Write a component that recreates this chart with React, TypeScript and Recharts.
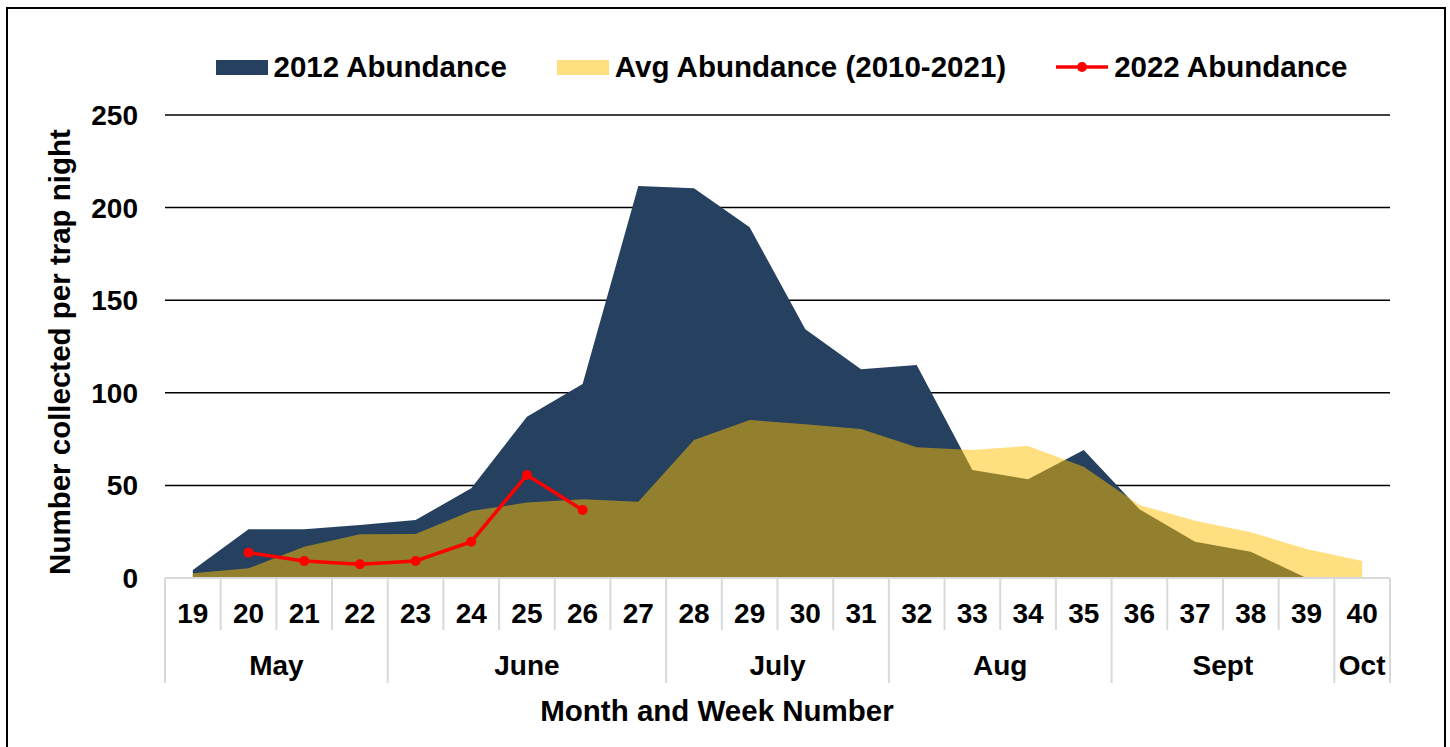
import React from 'react';
import { ComposedChart, Area, Line, XAxis, YAxis, CartesianGrid, Legend } from 'recharts';

const weeks = ['19', '20', '21', '22', '23', '24', '25', '26', '27', '28', '29', '30', '31', '32', '33', '34', '35', '36', '37', '38', '39', '40'];
const months = ['May', 'May', 'May', 'May', 'June', 'June', 'June', 'June', 'June', 'July', 'July', 'July', 'July', 'Aug', 'Aug', 'Aug', 'Aug', 'Sept', 'Sept', 'Sept', 'Sept', 'Oct'];
const abundance2012 = [4.3, 26.3, 26.3, 28.6, 31.3, 48.4, 87.1, 104.7, 211.7, 210.4, 189.4, 134.3, 112.7, 115, 58.3, 53.3, 69.1, 37.1, 19.6, 14.2, 0, null];
const avgAbundance = [2.5, 5.2, 16.9, 23.6, 23.8, 36.2, 40.7, 42.5, 41.2, 74.5, 85.3, 83, 80.5, 70.6, 69.1, 71.3, 60.1, 39.4, 30.9, 24.7, 15.7, 9.2];
const abundance2022 = [null, 13.7, 9.2, 7.4, 9.2, 19.6, 55.6, 36.7, null, null, null, null, null, null, null, null, null, null, null, null, null, null];
const yTicks = [0, 50, 100, 150, 200, 250];

const FONT = '"Liberation Sans", Arial, sans-serif';
const NAVY = '#26405F';
const GOLD = '#FFC000';
const GRID_GREY = '#D9D9D9';

const CHART_W = 1435;
const CHART_H = 735;
const PLOT_LEFT = 157;
const PLOT_W = 1225;
const BAND = PLOT_W / weeks.length;
const ROW_H = 52;

const data = weeks.map((w, i) => ({
    week: w,
    month: months[i],
    a2012: abundance2012[i],
    avg: avgAbundance[i],
    a2022: abundance2022[i],
}));

const WeekTick = (props: any) => {
    const { x, y, payload, index } = props;
    const left = x - BAND / 2;
    const right = x + BAND / 2;
    return (
        <g>
            <line x1={left} x2={left} y1={y} y2={y + ROW_H} stroke={GRID_GREY} strokeWidth={2} />
            {index === weeks.length - 1 && (
                <line x1={right} x2={right} y1={y} y2={y + ROW_H} stroke={GRID_GREY} strokeWidth={2} />
            )}
            <text x={x} y={y + 45} textAnchor="middle" fill="#000" fontSize={28} fontWeight="bold" fontFamily={FONT}>
                {payload.value}
            </text>
        </g>
    );
};

const MonthTick = (props: any) => {
    const { x, y, index } = props;
    const m = months[index];
    const isFirst = index === 0 || months[index - 1] !== m;
    if (!isFirst) return <g />;
    let count = 0;
    while (months[index + count] === m) count++;
    const left = x - BAND / 2;
    const right = left + count * BAND;
    const isLast = index + count >= months.length;
    return (
        <g>
            <line x1={left} x2={left} y1={y - 1} y2={y + ROW_H + 1} stroke={GRID_GREY} strokeWidth={2} />
            {isLast && <line x1={right} x2={right} y1={y - 1} y2={y + ROW_H + 1} stroke={GRID_GREY} strokeWidth={2} />}
            <text x={(left + right) / 2} y={y + 45} textAnchor="middle" fill="#000" fontSize={28} fontWeight="bold" fontFamily={FONT}>
                {m}
            </text>
        </g>
    );
};

const legendItems = [
    { name: '2012 Abundance', kind: 'area', color: NAVY },
    { name: 'Avg Abundance (2010-2021)', kind: 'area', color: '#FFDF80' },
    { name: '2022 Abundance', kind: 'line', color: '#FF0000' },
];

const renderLegend = () => (
    <div style={{ display: 'flex', justifyContent: 'center', alignItems: 'center', gap: 50, fontFamily: FONT, fontWeight: 'bold', fontSize: 29.5, lineHeight: '34px', color: '#000' }}>
        {legendItems.map(item => (
            <div key={item.name} style={{ display: 'flex', alignItems: 'center' }}>
                {item.kind === 'area' ? (
                    <span style={{ display: 'inline-block', width: 52, height: 15, background: item.color, marginRight: 6 }} />
                ) : (
                    <svg width={52} height={16} style={{ marginRight: 6 }}>
                        <line x1={0} x2={52} y1={8} y2={8} stroke={item.color} strokeWidth={3.5} />
                        <circle cx={26} cy={8} r={5} fill={item.color} />
                    </svg>
                )}
                <span>{item.name}</span>
            </div>
        ))}
    </div>
);

export default function App() {
    return (
        <div style={{ position: 'absolute', left: 6, top: 7, width: 1436, height: 760, border: '2px solid #000', background: '#fff' }}>
            <ComposedChart
                width={CHART_W}
                height={CHART_H}
                data={data}
                margin={{ top: 106, right: CHART_W - PLOT_LEFT - PLOT_W, left: 0, bottom: 61 }}
            >
                <CartesianGrid horizontal vertical={false} horizontalValues={[50, 100, 150, 200, 250]} stroke="#000" strokeWidth={1.5} />
                <XAxis
                    dataKey="week"
                    scale="band"
                    interval={0}
                    height={ROW_H}
                    tickSize={0}
                    tickMargin={0}
                    tickLine={false}
                    axisLine={{ stroke: GRID_GREY, strokeWidth: 2 }}
                    tick={<WeekTick />}
                />
                <XAxis
                    xAxisId="month"
                    dataKey="week"
                    scale="band"
                    interval={0}
                    height={ROW_H + 1}
                    tickSize={0}
                    tickMargin={0}
                    tickLine={false}
                    axisLine={false}
                    tick={<MonthTick />}
                />
                <YAxis
                    domain={[0, 250]}
                    ticks={yTicks}
                    width={PLOT_LEFT}
                    tickSize={0}
                    tickMargin={27}
                    tickLine={false}
                    axisLine={false}
                    tick={{ fill: '#000', fontSize: 28, fontWeight: 'bold', fontFamily: FONT }}
                />
                <Legend
                    verticalAlign="middle"
                    align="center"
                    layout="horizontal"
                    content={renderLegend}
                    wrapperStyle={{ top: 41, left: PLOT_LEFT + 4, width: PLOT_W }}
                />
                <Area type="linear" dataKey="a2012" name="2012 Abundance" fill={NAVY} fillOpacity={1} stroke="none" isAnimationActive={false} />
                <Area type="linear" dataKey="avg" name="Avg Abundance (2010-2021)" fill={GOLD} fillOpacity={0.5} stroke="none" isAnimationActive={false} />
                <Line
                    type="linear"
                    dataKey="a2022"
                    name="2022 Abundance"
                    stroke="#FF0000"
                    strokeWidth={3.5}
                    dot={{ r: 5, fill: '#FF0000', stroke: '#FF0000', strokeWidth: 0 }}
                    activeDot={false}
                    isAnimationActive={false}
                />
                <text x={709} y={712} textAnchor="middle" fill="#000" fontSize={29.5} fontWeight="bold" fontFamily={FONT}>
                    Month and Week Number
                </text>
                <text x={62} y={343} transform="rotate(-90 62 343)" textAnchor="middle" fill="#000" fontSize={29.5} fontWeight="bold" fontFamily={FONT}>
                    Number collected per trap night
                </text>
            </ComposedChart>
        </div>
    );
}
